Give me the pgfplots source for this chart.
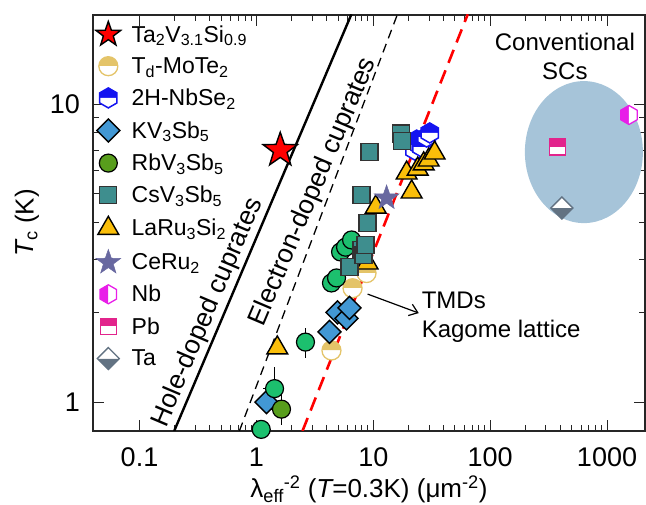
\documentclass[border=0pt]{standalone}
\usepackage{fontspec}
\setmainfont{Liberation Sans}
\usepackage{pgfplots}
\pgfplotsset{compat=1.18}
\usetikzlibrary{arrows.meta}

\definecolor{tanc}{RGB}{228,196,105}
\definecolor{nbseblue}{RGB}{20,20,240}
\definecolor{kvblue}{RGB}{66,152,212}
\definecolor{rbgreen}{RGB}{88,158,28}
\definecolor{brgreen}{RGB}{28,192,110}
\definecolor{csteal}{RGB}{62,142,142}
\definecolor{layel}{RGB}{250,190,10}
\definecolor{ceru}{RGB}{104,104,160}
\definecolor{nbmag}{RGB}{232,30,232}
\definecolor{pbpink}{RGB}{226,36,140}
\definecolor{tagray}{RGB}{98,114,130}
\definecolor{ellc}{RGB}{166,196,217}

\def\mpt#1#2{\pgfpoint{#1\pgfplotmarksize}{#2\pgfplotmarksize}}

\pgfdeclareplotmark{fstar}{%
  \pgfpathmoveto{\pgfpointpolar{90}{\pgfplotmarksize}}%
  \pgfpathlineto{\pgfpointpolar{126}{0.4\pgfplotmarksize}}%
  \pgfpathlineto{\pgfpointpolar{162}{\pgfplotmarksize}}%
  \pgfpathlineto{\pgfpointpolar{198}{0.4\pgfplotmarksize}}%
  \pgfpathlineto{\pgfpointpolar{234}{\pgfplotmarksize}}%
  \pgfpathlineto{\pgfpointpolar{270}{0.4\pgfplotmarksize}}%
  \pgfpathlineto{\pgfpointpolar{306}{\pgfplotmarksize}}%
  \pgfpathlineto{\pgfpointpolar{342}{0.4\pgfplotmarksize}}%
  \pgfpathlineto{\pgfpointpolar{18}{\pgfplotmarksize}}%
  \pgfpathlineto{\pgfpointpolar{54}{0.4\pgfplotmarksize}}%
  \pgfpathclose
  \pgfusepathqfillstroke
}
% half circle, top filled
\pgfdeclareplotmark{hcircT}{%
  \pgfpathmoveto{\mpt{1}{0}}%
  \pgfpatharc{0}{180}{\pgfplotmarksize}%
  \pgfpathclose
  \pgfusepathqfill
  \begin{pgfscope}\pgfsetfillcolor{white}%
  \pgfpathmoveto{\mpt{-1}{0}}%
  \pgfpatharc{180}{360}{\pgfplotmarksize}%
  \pgfpathclose
  \pgfusepathqfill\end{pgfscope}%
  \pgfpathcircle{\pgfpointorigin}{\pgfplotmarksize}%
  \pgfusepathqstroke
}
% hexagon, top filled
\pgfdeclareplotmark{hexT}{%
  \pgfpathmoveto{\mpt{0.866}{0}}\pgfpathlineto{\mpt{0.866}{0.5}}\pgfpathlineto{\mpt{0}{1}}%
  \pgfpathlineto{\mpt{-0.866}{0.5}}\pgfpathlineto{\mpt{-0.866}{0}}\pgfpathclose
  \pgfusepathqfill
  \begin{pgfscope}\pgfsetfillcolor{white}%
  \pgfpathmoveto{\mpt{0.866}{0}}\pgfpathlineto{\mpt{0.866}{-0.5}}\pgfpathlineto{\mpt{0}{-1}}%
  \pgfpathlineto{\mpt{-0.866}{-0.5}}\pgfpathlineto{\mpt{-0.866}{0}}\pgfpathclose
  \pgfusepathqfill\end{pgfscope}%
  \pgfpathmoveto{\mpt{0}{1}}\pgfpathlineto{\mpt{0.866}{0.5}}\pgfpathlineto{\mpt{0.866}{-0.5}}%
  \pgfpathlineto{\mpt{0}{-1}}\pgfpathlineto{\mpt{-0.866}{-0.5}}\pgfpathlineto{\mpt{-0.866}{0.5}}\pgfpathclose
  \pgfusepathqstroke
}
% hexagon, left filled
\pgfdeclareplotmark{hexL}{%
  \pgfpathmoveto{\mpt{0}{1}}\pgfpathlineto{\mpt{-0.866}{0.5}}\pgfpathlineto{\mpt{-0.866}{-0.5}}%
  \pgfpathlineto{\mpt{0}{-1}}\pgfpathclose
  \pgfusepathqfill
  \begin{pgfscope}\pgfsetfillcolor{white}%
  \pgfpathmoveto{\mpt{0}{1}}\pgfpathlineto{\mpt{0.866}{0.5}}\pgfpathlineto{\mpt{0.866}{-0.5}}%
  \pgfpathlineto{\mpt{0}{-1}}\pgfpathclose
  \pgfusepathqfill\end{pgfscope}%
  \pgfpathmoveto{\mpt{0}{1}}\pgfpathlineto{\mpt{0.866}{0.5}}\pgfpathlineto{\mpt{0.866}{-0.5}}%
  \pgfpathlineto{\mpt{0}{-1}}\pgfpathlineto{\mpt{-0.866}{-0.5}}\pgfpathlineto{\mpt{-0.866}{0.5}}\pgfpathclose
  \pgfusepathqstroke
}
% square, top filled
\pgfdeclareplotmark{sqT}{%
  \pgfpathrectanglecorners{\mpt{-1}{0}}{\mpt{1}{1}}\pgfusepathqfill
  \begin{pgfscope}\pgfsetfillcolor{white}%
  \pgfpathrectanglecorners{\mpt{-1}{-1}}{\mpt{1}{0}}\pgfusepathqfill\end{pgfscope}%
  \pgfpathrectanglecorners{\mpt{-1}{-1}}{\mpt{1}{1}}\pgfusepathqstroke
}
% diamond (rotated square), full
\pgfdeclareplotmark{dia}{%
  \pgfpathmoveto{\mpt{0}{1}}\pgfpathlineto{\mpt{1}{0}}\pgfpathlineto{\mpt{0}{-1}}%
  \pgfpathlineto{\mpt{-1}{0}}\pgfpathclose
  \pgfusepathqfillstroke
}
% diamond, bottom filled
\pgfdeclareplotmark{diaB}{%
  \pgfpathmoveto{\mpt{-1}{0}}\pgfpathlineto{\mpt{1}{0}}\pgfpathlineto{\mpt{0}{-1}}\pgfpathclose
  \pgfusepathqfill
  \begin{pgfscope}\pgfsetfillcolor{white}%
  \pgfpathmoveto{\mpt{-1}{0}}\pgfpathlineto{\mpt{1}{0}}\pgfpathlineto{\mpt{0}{1}}\pgfpathclose
  \pgfusepathqfill\end{pgfscope}%
  \pgfpathmoveto{\mpt{0}{1}}\pgfpathlineto{\mpt{1}{0}}\pgfpathlineto{\mpt{0}{-1}}%
  \pgfpathlineto{\mpt{-1}{0}}\pgfpathclose
  \pgfusepathqstroke
}

\begin{document}
\begin{tikzpicture}
\begin{axis}[
  name=ax,
  scale only axis, width=552pt, height=416pt,
  xmode=log, ymode=log,
  xmin=0.04, xmax=2113, ymin=0.8, ymax=19.9,
  xtick={0.1,1,10,100,1000}, xticklabels={0.1,1,10,100,1000},
  ytick={1,10}, yticklabels={1,10},
  tick align=inside, xtick pos=both, ytick pos=both,
  major tick length=11pt, minor tick length=6pt,
  every tick/.style={black!85, line width=1pt},
  axis line style={black!85, line width=1.3pt},
  /pgf/number format/assume math mode=true,
  ticklabel style={font=\fontsize{27}{32}\selectfont},
  xticklabel style={anchor=base, yshift=-36pt},
  yticklabel style={anchor=east, inner sep=0pt, xshift=-13pt},
  label style={font=\fontsize{26}{31}\selectfont},
  xlabel={λ\textsubscript{eff}\textsuperscript{-2} ({\itshape T}=0.3K) (μm\textsuperscript{-2})},
  xlabel style={at={(axis description cs:0.5,-0.161)}, anchor=base},
  ylabel={{\itshape T}\textsubscript{c} (K)},
  ylabel style={at={(axis description cs:-0.1196,0.5)}, anchor=center},
  legend style={at={(axis description cs:0.005,0.985)}, anchor=north west, draw=none, fill=none,
    font=\fontsize{23}{27}\selectfont, row sep=10pt, column sep=9pt, inner sep=0pt, nodes={inner sep=2pt}},
  legend cell align=left,
  clip=true,
]
% conventional SC ellipse
\fill[ellc] (axis cs:634,6.9) ellipse [x radius=59pt, y radius=71pt];
% cuprate lines
\addplot[forget plot, black, line width=2.4pt] coordinates {(0.198,0.8) (6.5,20)};
\addplot[forget plot, black, line width=1.3pt, dash pattern=on 9pt off 6pt] coordinates {(0.715,0.8) (16.1,20)};

% Ta2V3.1Si0.9
\addplot[only marks, mark=fstar, mark size=18pt, mark options={draw=black, fill=red, line width=1.4pt},
  legend image post style={mark size=13pt}] coordinates {(1.6,7.0)};
\addlegendentry{Ta\textsubscript{2}V\textsubscript{3.1}Si\textsubscript{0.9}}
% Td-MoTe2
\addplot[only marks, mark=hcircT, mark size=9.5pt, mark options={draw=tanc, fill=tanc, line width=1.3pt}]
  coordinates {(8.76,2.71) (6.65,2.41) (4.39,1.49)};
\addlegendentry{T\textsubscript{d}-MoTe\textsubscript{2}}
% 2H-NbSe2
\addplot[only marks, mark=hexT, mark size=10pt, mark options={draw=nbseblue, fill=nbseblue, line width=1.5pt}]
  coordinates {(22.6,7.01) (23.5,7.57) (24.9,7.28) (25.9,7.17) (28.6,7.75) (30.4,8.0)};
\addlegendentry{2H-NbSe\textsubscript{2}}
% KV3Sb5
\addplot[only marks, mark=dia, mark size=11.5pt, mark options={draw=black, fill=kvblue, line width=1.4pt}]
  coordinates {(1.22,1.0) (4.22,1.72) (4.94,2.00) (5.91,1.91) (6.26,2.07)};
\addlegendentry{KV\textsubscript{3}Sb\textsubscript{5}}
% bright green circles (no legend entry)
\addplot[forget plot, only marks, mark=*, mark size=9pt, mark options={draw=black, fill=brgreen, line width=1.2pt},
  error bars/.cd, y dir=both, y explicit, x dir=both, x explicit, error mark=none,
  error bar style={black, line width=1.5pt}]
  coordinates {(1.10,0.81) +- (0,0.05) (1.43,1.11) +- (0.3,0.2) (2.63,1.59) +- (0,0.18)
   (4.39,2.51) +- (0,0.1) (4.85,2.61) +- (0,0.1) (5.25,3.19) +- (0,0.12)
   (5.79,3.31) +- (0,0.12) (6.52,3.50) +- (0,0.12)};
% RbV3Sb5
\addplot[only marks, mark=*, mark size=9pt, mark options={draw=black, fill=rbgreen, line width=1.2pt},
  error bars/.cd, y dir=both, y explicit, x dir=both, x explicit, error mark=none,
  error bar style={black, line width=1.5pt}]
  coordinates {(1.64,0.947) +- (0.35,0.11)};
\addlegendentry{RbV\textsubscript{3}Sb\textsubscript{5}}
% LaRu3Si2 (drawn before squares)
\addplot[forget plot, only marks, mark=triangle*, mark size=12pt, mark options={draw=black, fill=layel, line width=1.4pt}]
  coordinates {(8.94,2.93)};
% CsV3Sb5
\addplot[only marks, mark=square*, mark size=8.5pt, mark options={draw=black!80, fill=csteal, line width=1.2pt}]
  coordinates {(6.26,2.84) (7.94,3.24) (8.26,3.11) (8.59,3.36) (8.94,3.99) (7.94,4.95) (9.3,6.9) (17.4,7.97) (17.7,7.53)};
\addlegendentry{CsV\textsubscript{3}Sb\textsubscript{5}}
% LaRu3Si2
\addplot[only marks, mark=triangle*, mark size=12pt, mark options={draw=black, fill=layel, line width=1.4pt}]
  coordinates {(1.51,1.52) (10.5,4.51) (21.3,5.07) (19.3,5.87) (24.0,6.05) (27.0,6.3) (29.8,6.49) (33.5,6.85)};
\addlegendentry{LaRu\textsubscript{3}Si\textsubscript{2}}
% CeRu2
\addplot[only marks, mark=fstar, mark size=13pt, mark options={draw=ceru, fill=ceru, line width=0.5pt}]
  coordinates {(13.0,4.84)};
\addlegendentry{CeRu\textsubscript{2}}
% Nb
\addplot[only marks, mark=hexL, mark size=9.5pt, mark options={draw=nbmag, fill=nbmag, line width=1.3pt}]
  coordinates {(1541,9.19)};
\addlegendentry{Nb}
% Pb
\addplot[only marks, mark=sqT, mark size=8pt, mark options={draw=pbpink, fill=pbpink, line width=1.3pt}]
  coordinates {(379,7.17)};
\addlegendentry{Pb}
% Ta
\addplot[only marks, mark=diaB, mark size=11pt, mark options={draw=tagray, fill=tagray, line width=1.3pt}]
  coordinates {(411,4.48)};
\addlegendentry{Ta}

% red dashed line on top
\addplot[forget plot, red, line width=2.6pt, dash pattern=on 14pt off 8pt] coordinates {(2.48,0.8) (64.3,20)};

% annotations
\node[font=\fontsize{26.5}{31}\selectfont, rotate=67] at (axis cs:0.385,2.0) {Hole-doped cuprates};
\node[font=\fontsize{26.5}{31}\selectfont, rotate=67] at (axis cs:3.08,5.07) {Electron-doped cuprates};
\node[font=\fontsize{24}{29}\selectfont, align=center] at (axis cs:436,14.4) {Conventional\\SCs};
\node[font=\fontsize{24}{29}\selectfont, anchor=base west, inner sep=0pt] at (axis cs:25.9,2.068) {TMDs};
\node[font=\fontsize{24}{29}\selectfont, anchor=base west, inner sep=0pt] at (axis cs:25.9,1.652) {Kagome lattice};
\draw[line width=1.2pt, -{Straight Barb[length=8pt,width=12pt]}] (axis cs:8.94,2.304) -- (axis cs:24.5,1.99);
\end{axis}
\pgfresetboundingbox
\path[use as bounding box] ([xshift=-93pt,yshift=-74pt]ax.south west) rectangle ([xshift=1pt,yshift=15pt]ax.north east);
\end{tikzpicture}
\end{document}
